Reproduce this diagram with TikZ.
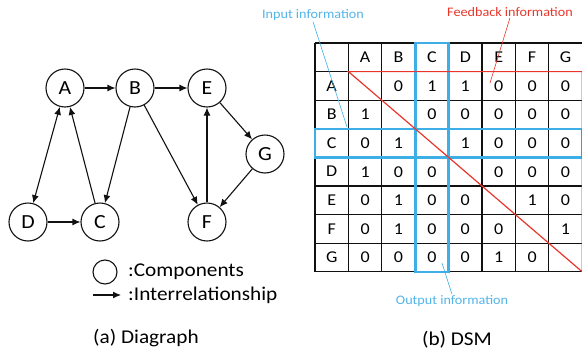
\documentclass[tikz,border=0pt]{standalone}
\usepackage{fontspec}
\setmainfont{Carlito}[FakeStretch=1.09]
\usetikzlibrary{arrows.meta,positioning,calc}
\definecolor{ink}{HTML}{111111}
\definecolor{sky}{HTML}{3DAFE6}
\definecolor{skytext}{HTML}{52B4E8}
\definecolor{flame}{HTML}{E8362C}
\newcommand{\fsz}[1]{\fontsize{#1}{#1}\selectfont}

\begin{document}
\begin{tikzpicture}[x=1pt,y=-1pt,
    comp/.style={circle,draw=ink,line width=1.1pt,minimum size=38pt,
                 inner sep=0pt,font=\fsz{20}},
    rel/.style={-{Latex[length=8pt,width=7pt]},line width=1.1pt,draw=ink},
    mutual/.style={rel,{Latex[length=8pt,width=7pt]}-{Latex[length=8pt,width=7pt]}},
    cell/.style={inner sep=0pt,font=\fsz{16.5}},
    note/.style={inner sep=1pt,font=\fsz{13}},
    caption/.style={inner sep=0pt,font=\fsz{19.5}},
    gridline/.style={line width=1.3pt,draw=ink}]
  \useasboundingbox (0,0) rectangle (582,354);

  % (a) digraph
  \node[comp] (A) at (65,88) {A};
  \node[comp] (B) at (135,88) {B};
  \node[comp] (E) at (207,88) {E};
  \node[comp] (G) at (265,154) {G};
  \node[comp] (D) at (28,222) {D};
  \node[comp] (C) at (100,222) {C};
  \node[comp] (F) at (207,222) {F};
  \draw[rel] (A) -- (B);
  \draw[rel] (B) -- (E);
  \draw[rel] (E) -- (G);
  \draw[rel] (G) -- (F);
  \draw[rel] (F) -- (E);
  \draw[rel] (B) -- (C);
  \draw[rel] (B) -- (F);
  \draw[rel] (C) -- (A);
  \draw[rel] (D) -- (C);
  \draw[mutual] (A) -- (D);

  % legend
  \node[circle,draw=ink,line width=1.1pt,minimum size=24pt,inner sep=0pt]
    (leg-comp) at (105,272) {};
  \node[caption,anchor=west] (leg-comp-text) at (128,272) {:Components};
  \coordinate (leg-tail) at (93,295);
  \coordinate (leg-head) at (121,295);
  \draw[rel] (leg-tail) -- (leg-head);
  \node[caption,anchor=west] (leg-rel-text) at (128,295) {:Interrelationship};
  \node[caption] (cap-a) at (146,338) {(a) Diagraph};

  % (b) DSM
  \def\tx{315} \def\ty{43} \def\cw{33.4} \def\rh{28.6}
  \foreach \i in {0,...,8} {
    \draw[gridline] ({\tx+\i*\cw},\ty) -- ({\tx+\i*\cw},{\ty+8*\rh});
    \draw[gridline] (\tx,{\ty+\i*\rh}) -- ({\tx+8*\cw},{\ty+\i*\rh});
  }
  \foreach \l [count=\i] in {A,B,C,D,E,F,G} {
    \node[cell] (col-\l) at ({\tx+(\i+0.5)*\cw},{\ty+0.5*\rh}) {\l};
    \node[cell] (row-\l) at ({\tx+0.5*\cw},{\ty+(\i+0.5)*\rh}) {\l};
  }
  \foreach \row [count=\r] in {{0,0,1,1,0,0,0},{1,0,0,0,0,0,0},
      {0,1,0,1,0,0,0},{1,0,0,0,0,0,0},{0,1,0,0,0,1,0},
      {0,1,0,0,0,0,1},{0,0,0,0,1,0,0}} {
    \foreach \v [count=\c] in \row
      \node[cell] (cell-\r-\c) at ({\tx+(\c+0.5)*\cw},{\ty+(\r+0.5)*\rh})
        {\ifnum\r=\c\else\v\fi};
  }
  \draw[sky,line width=2.6pt] ({\tx+3*\cw},\ty) rectangle ({\tx+4*\cw},{\ty+8*\rh});
  \draw[sky,line width=2.6pt] (\tx,{\ty+3*\rh}) rectangle ({\tx+8*\cw},{\ty+4*\rh});
  \draw[flame,line width=1.2pt] ({\tx+\cw},{\ty+\rh}) -- ({\tx+8*\cw},{\ty+\rh})
    -- ({\tx+8*\cw},{\ty+8*\rh}) -- cycle;

  \node[note,text=skytext] (input) at (313,15) {Input information};
  \coordinate (input-tip) at (347,127);
  \draw[sky,line width=0.6pt] (input.south) -- (input-tip);
  \node[note,text=flame] (feedback) at (510,12) {Feedback information};
  \coordinate (feedback-tip) at (490,83);
  \draw[flame,line width=0.6pt] (feedback.south) -- (feedback-tip);
  \node[note,text=skytext] (output) at (452,301) {Output information};
  \coordinate (output-tip) at (442,263);
  \draw[sky,line width=0.6pt] (output.north) -- (output-tip);
  \node[caption] (cap-b) at (457,340) {(b) DSM};
\end{tikzpicture}
\end{document}
